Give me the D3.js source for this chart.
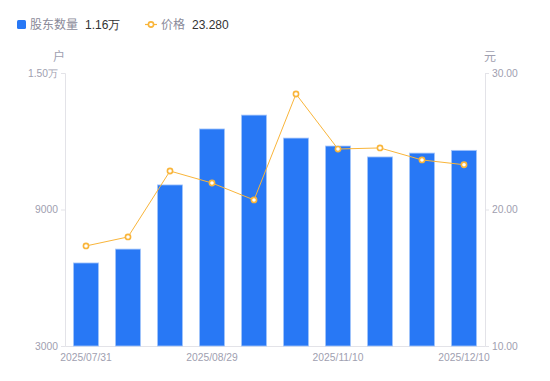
<!DOCTYPE html>
<html><head><meta charset="utf-8">
<script src="https://cdn.jsdelivr.net/npm/d3@7/dist/d3.min.js"></script>
<style>body{margin:0;background:#fff;font-family:"Noto Sans CJK SC","Noto Sans",sans-serif;}</style>
</head><body><svg id="c" width="550" height="381"></svg>
<script>
const categories = ["2025/07/31","2025/08/10","2025/08/20","2025/08/29","2025/09/30","2025/10/20","2025/11/10","2025/11/20","2025/11/30","2025/12/10"];
const holders = [6650, 7260, 10080, 12540, 13150, 12140, 11790, 11310, 11480, 11600];
const prices = [17.33, 17.99, 22.82, 21.94, 20.70, 28.46, 24.43, 24.51, 23.63, 23.28];
const leftTicks = [3000, 9000, 15000];
const rightTicks = [10, 20, 30];
const xLabels = ["2025/07/31","2025/08/29","2025/11/10","2025/12/10"];

const svg = d3.select("#c");
const L = 65, R = 485, T = 73, B = 346;
const x = d3.scaleBand().domain(categories).range([L, R]).paddingInner(0.4).paddingOuter(0.2);
const xc = d3.scaleBand().domain(categories).range([L, R]);
const yL = d3.scaleLinear().domain([3000, 15000]).range([B, T]);
const yR = d3.scaleLinear().domain([10, 30]).range([B, T]);
const grey = "#a0a0b0";
const numFont = "'Liberation Sans', Arial, sans-serif";
const fmtL = v => v >= 10000 ? (v/10000).toFixed(2) + "万" : String(v);

// axes
const gl = svg.append("g").attr("transform", `translate(${L},0)`)
  .call(d3.axisLeft(yL).tickValues(leftTicks).tickSize(4).tickFormat(fmtL));
const gr = svg.append("g").attr("transform", `translate(${R},0)`)
  .call(d3.axisRight(yR).tickValues(rightTicks).tickSize(4).tickFormat(d => d.toFixed(2)));
[gl, gr].forEach(g => {
  g.select(".domain").attr("stroke", "#e3e3e8");
  g.selectAll(".tick line").attr("stroke", "#e3e3e8");
  g.selectAll(".tick text").attr("fill", grey).attr("font-size", 10.3).attr("font-family", numFont);
});
gl.selectAll(".tick").filter(d => d === 3000).select("line").remove();
gr.selectAll(".tick").filter(d => d === 10).select("line").remove();
gl.selectAll(".tick text").attr("x", -7);
gr.selectAll(".tick text").attr("x", 7);

const gx = svg.append("g").attr("transform", `translate(0,${B})`)
  .call(d3.axisBottom(xc).tickValues(xLabels).tickSize(0).tickPadding(8));
gx.select(".domain").attr("stroke", "#e3e3e8");
gx.selectAll(".tick text").attr("fill", grey).attr("font-size", 10.3).attr("font-family", numFont);

// axis names
svg.append("text").attr("x", 59).attr("y", 61).attr("text-anchor", "middle").attr("fill", grey).attr("font-size", 12).text("户");
svg.append("text").attr("x", 490).attr("y", 61).attr("text-anchor", "middle").attr("fill", grey).attr("font-size", 12).text("元");

// bars
svg.append("g").selectAll("rect").data(holders).join("rect")
  .attr("x", (d, i) => x(categories[i]))
  .attr("width", x.bandwidth())
  .attr("y", d => yL(d))
  .attr("height", d => B - yL(d))
  .attr("fill", "#2878f5")
  .attr("stroke", "#a8c8fb").attr("stroke-width", 0.8);

// line
const cx = i => xc(categories[i]) + xc.bandwidth() / 2;
svg.append("path").datum(prices)
  .attr("d", d3.line().x((d, i) => cx(i)).y(d => yR(d)))
  .attr("fill", "none").attr("stroke", "#f9b53a").attr("stroke-width", 1);
svg.append("g").selectAll("circle").data(prices).join("circle")
  .attr("cx", (d, i) => cx(i)).attr("cy", d => yR(d)).attr("r", 2.6)
  .attr("fill", "#fff").attr("stroke", "#f9b53a").attr("stroke-width", 1.6);

// legend
const lg = svg.append("g");
lg.append("rect").attr("x", 17).attr("y", 20).attr("width", 9).attr("height", 9).attr("rx", 1.5).attr("fill", "#2878f5");
lg.append("text").attr("x", 30).attr("y", 29).attr("fill", "#8a8a99").attr("font-size", 12).text("股东数量");
lg.append("text").attr("x", 85).attr("y", 29).attr("fill", "#333").attr("font-size", 12).attr("font-family", numFont).text("1.16万");
lg.append("line").attr("x1", 145).attr("x2", 157).attr("y1", 24.5).attr("y2", 24.5).attr("stroke", "#f9b53a").attr("stroke-width", 1.2);
lg.append("circle").attr("cx", 151).attr("cy", 24.5).attr("r", 2.6).attr("fill", "#fff").attr("stroke", "#f9b53a").attr("stroke-width", 1.6);
lg.append("text").attr("x", 161).attr("y", 29).attr("fill", "#8a8a99").attr("font-size", 12).text("价格");
lg.append("text").attr("x", 192).attr("y", 29).attr("fill", "#333").attr("font-size", 12).attr("font-family", numFont).text("23.280");
</script></body></html>
